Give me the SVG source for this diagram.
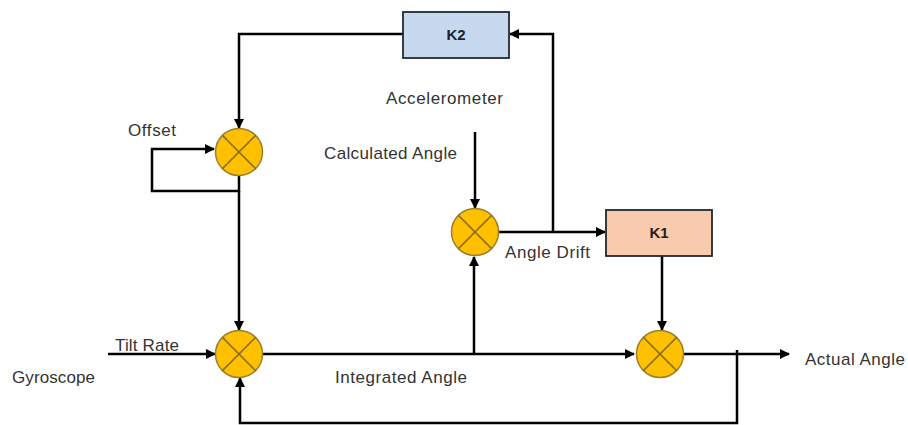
<svg xmlns="http://www.w3.org/2000/svg" width="908" height="425" viewBox="0 0 908 425">
<defs>
<marker id="arr" viewBox="0 0 10 10" refX="9" refY="5" markerWidth="4" markerHeight="4" orient="auto" markerUnits="strokeWidth">
<path d="M0,0 L10,5 L0,10 z" fill="#000"/>
</marker>
<style>
.ln{fill:none;stroke:#000;stroke-width:2.5}
.ar{marker-end:url(#arr)}
.sum circle{fill:#ffc000;stroke:#9c7f2a;stroke-width:1.5}
.sum line{stroke:#8a6d1e;stroke-width:1.5}
.t{font-family:"Liberation Sans",Arial,sans-serif;font-size:17px;fill:#333}
.k{font-family:"Liberation Sans",Arial,sans-serif;font-size:15px;font-weight:bold;fill:#222;text-anchor:middle}
.box{stroke:#1e2a33;stroke-width:1.8}
</style>
</defs>
<rect width="908" height="425" fill="#fff"/>
<g id="connectors">
<path class="ln ar" d="M403,34 H239 V128"/>
<path class="ln ar" d="M239,175 V191 H152 V149 H214"/>
<path class="ln ar" d="M239,191 V330"/>
<path class="ln ar" d="M108,354 H215"/>
<path class="ln ar" d="M262,354 H634"/>
<path class="ln ar" d="M474,354 V257"/>
<path class="ln ar" d="M475,132 V208"/>
<path class="ln ar" d="M498,232 H605"/>
<path class="ln ar" d="M553,232 V34 H510"/>
<path class="ln ar" d="M662,256 V330"/>
<path class="ln ar" d="M684,354 H789"/>
<path class="ln ar" d="M737,350 V423 H240 V378"/>
</g>
<g id="K2">
<rect class="box" x="403" y="12" width="106" height="46" fill="#c6d9ef"/>
<text class="k" x="456" y="40">K2</text>
</g>
<g id="K1">
<rect class="box" x="606" y="210" width="106" height="46" fill="#f7cbac"/>
<text class="k" x="659" y="238">K1</text>
</g>
<g id="sum-offset" class="sum">
<circle cx="239" cy="152" r="23.5"/>
<line x1="222.4" y1="135.4" x2="255.6" y2="168.6"/>
<line x1="255.6" y1="135.4" x2="222.4" y2="168.6"/>
</g>
<g id="sum-gyro" class="sum">
<circle cx="239" cy="354" r="23.5"/>
<line x1="222.4" y1="337.4" x2="255.6" y2="370.6"/>
<line x1="255.6" y1="337.4" x2="222.4" y2="370.6"/>
</g>
<g id="sum-drift" class="sum">
<circle cx="475" cy="232" r="23.5"/>
<line x1="458.4" y1="215.4" x2="491.6" y2="248.6"/>
<line x1="491.6" y1="215.4" x2="458.4" y2="248.6"/>
</g>
<g id="sum-actual" class="sum">
<circle cx="660" cy="354" r="23.5"/>
<line x1="643.4" y1="337.4" x2="676.6" y2="370.6"/>
<line x1="676.6" y1="337.4" x2="643.4" y2="370.6"/>
</g>
<g id="labels">
<text class="t" x="128" y="136" textLength="48">Offset</text>
<text class="t" x="386" y="104" textLength="117">Accelerometer</text>
<text class="t" x="324" y="159" textLength="133">Calculated Angle</text>
<text class="t" x="505" y="258" textLength="85">Angle Drift</text>
<text class="t" x="115" y="351" textLength="64">Tilt Rate</text>
<text class="t" x="12" y="383" textLength="83">Gyroscope</text>
<text class="t" x="335" y="383" textLength="132">Integrated Angle</text>
<text class="t" x="805" y="365" textLength="100">Actual Angle</text>
</g>
</svg>
